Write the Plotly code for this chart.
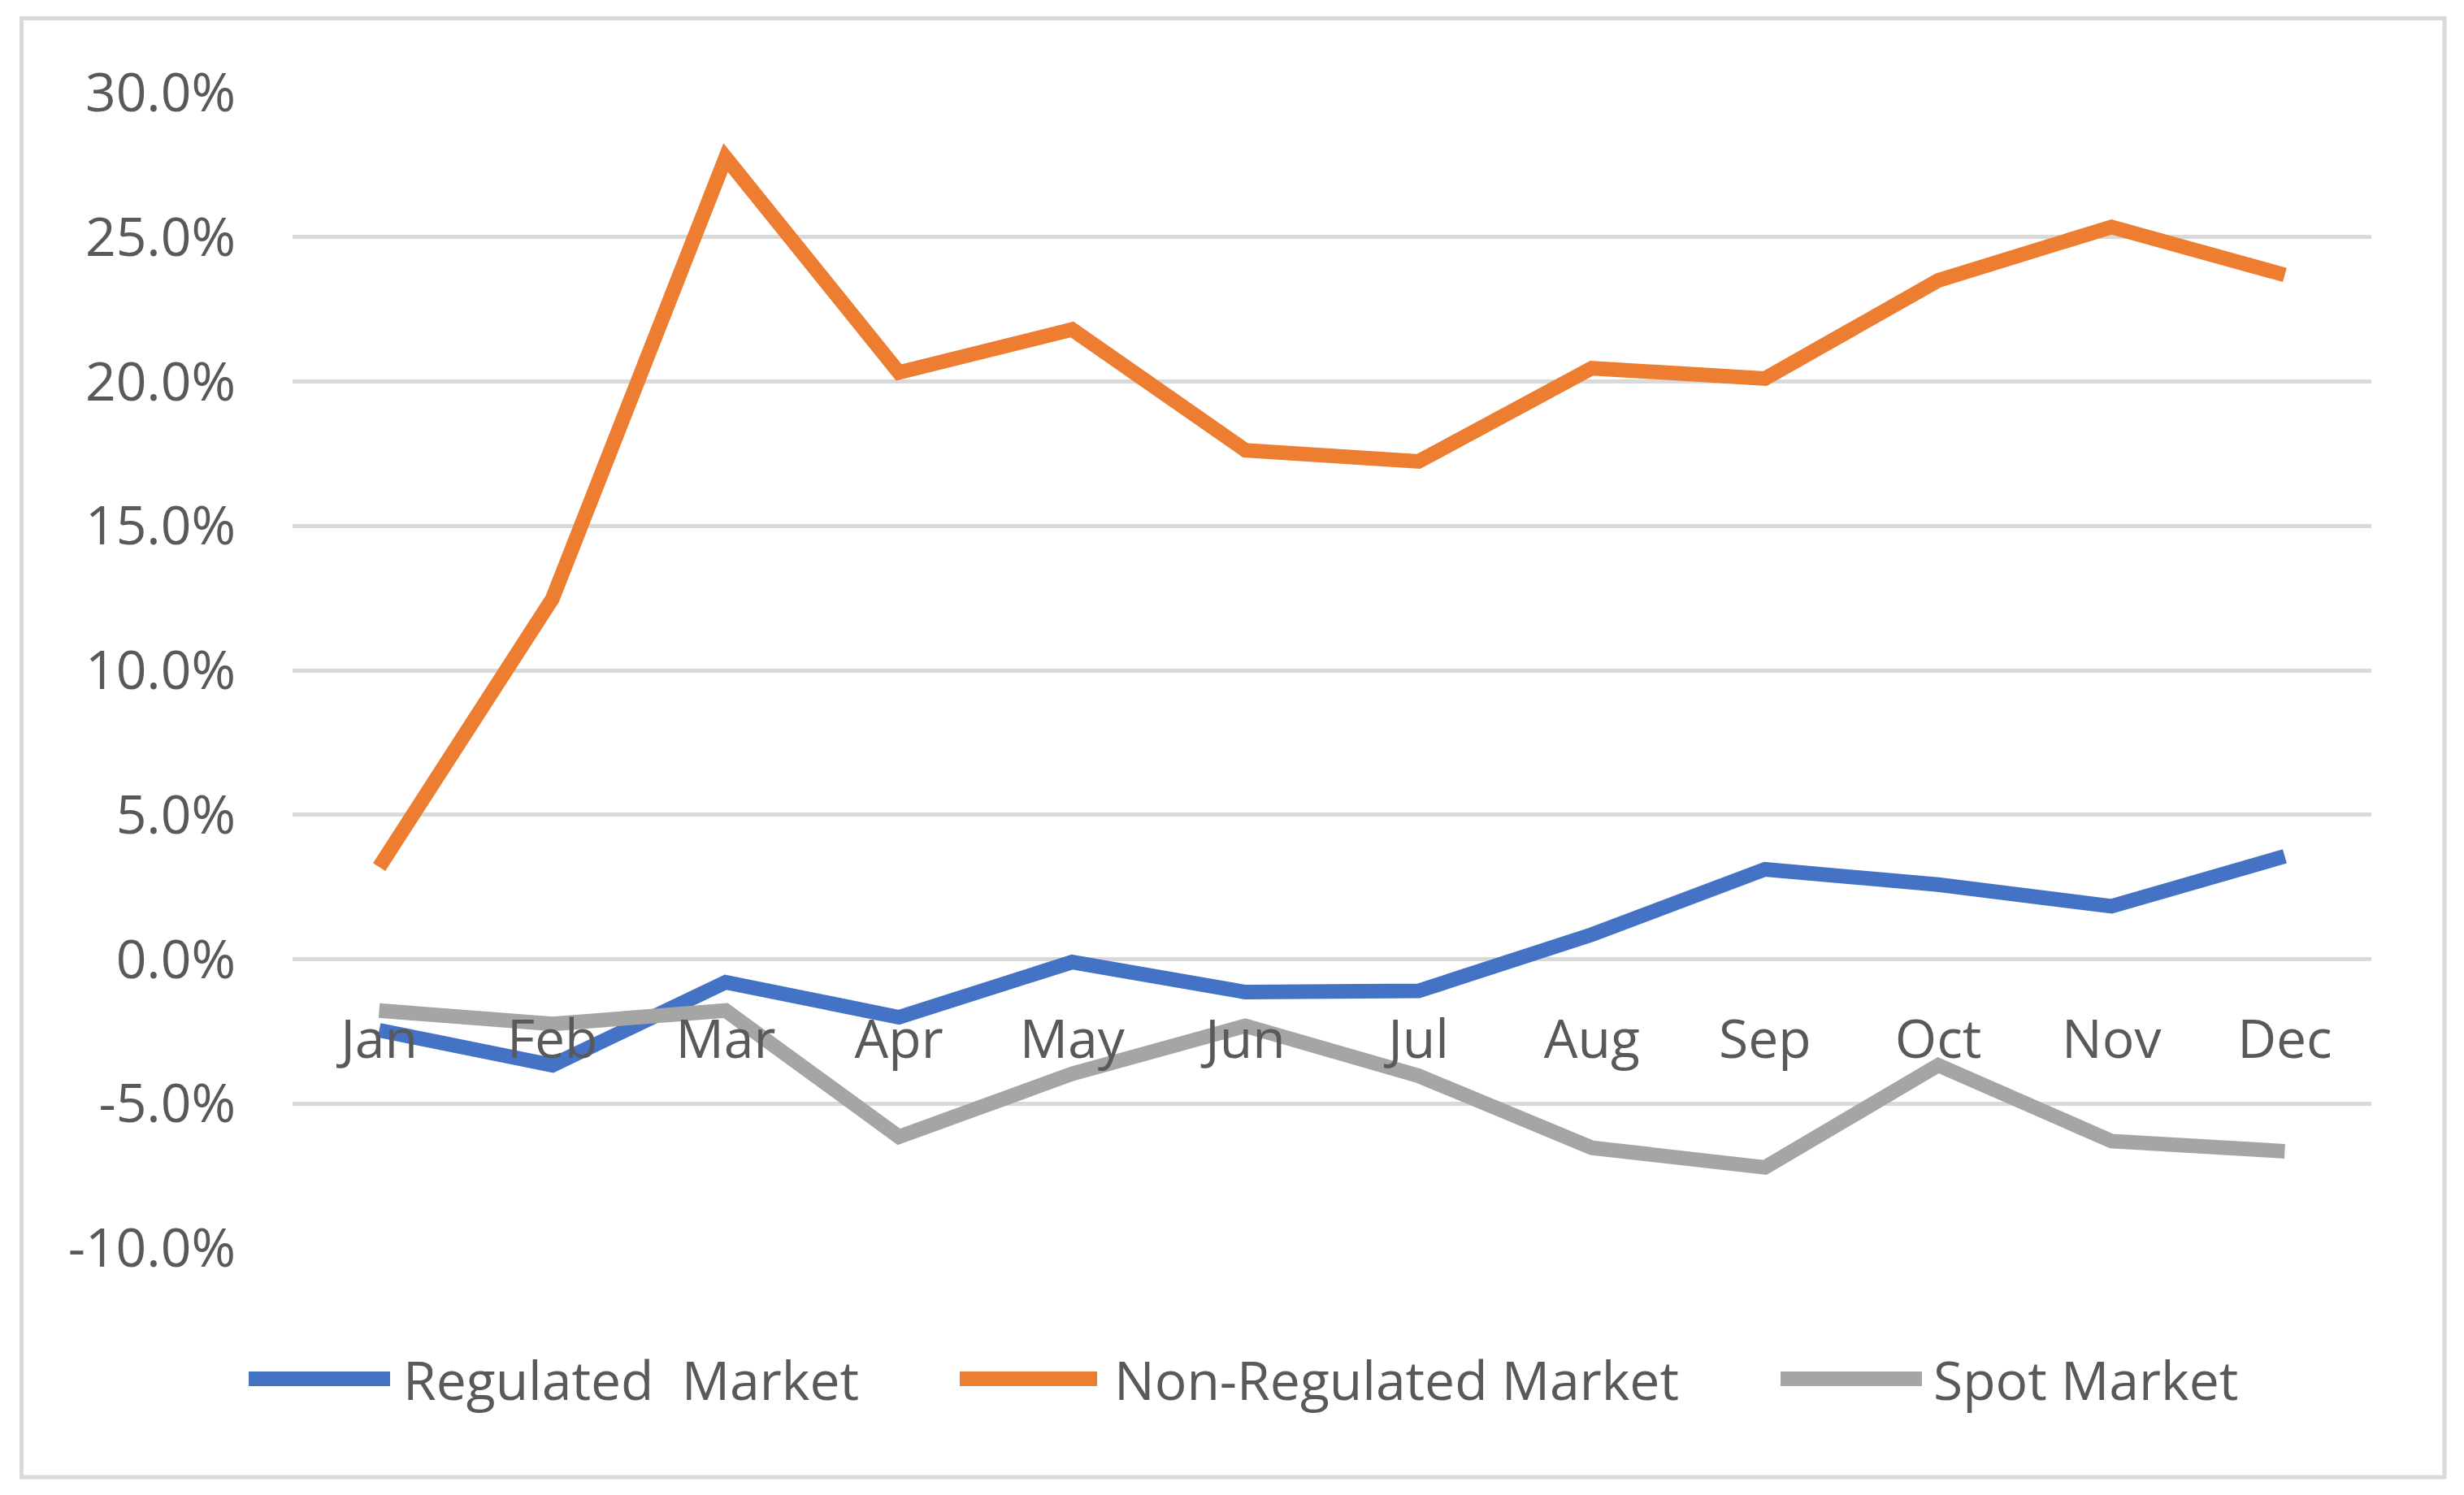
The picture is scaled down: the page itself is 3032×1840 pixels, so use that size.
import plotly.graph_objects as go

months = ["Jan", "Feb", "Mar", "Apr", "May", "Jun", "Jul", "Aug", "Sep", "Oct", "Nov", "Dec"]
regulated = [-2.46, -3.67, -0.80, -2.01, -0.10, -1.14, -1.10, 0.85, 3.11, 2.58, 1.83, 3.56]
non_regulated = [3.19, 12.48, 27.75, 20.31, 21.80, 17.62, 17.23, 20.46, 20.10, 23.50, 25.35, 23.69]
spot = [-1.78, -2.24, -1.78, -6.15, -3.97, -2.31, -4.04, -6.53, -7.21, -3.67, -6.30, -6.65]
series_names = ["Regulated  Market", "Non-Regulated Market", "Spot Market"]
series_colors = ["#4472C4", "#ED7D31", "#A5A5A5"]
y_tick_vals = [-10, -5, 0, 5, 10, 15, 20, 25, 30]
y_tick_text = ["-10.0%", "-5.0%", "0.0%", "5.0%", "10.0%", "15.0%", "20.0%", "25.0%", "30.0%"]

W, H = 3032, 1840
L, R, T, B = 360, 114, 114, 304
PW, PH = W - L - R, H - T - B

def px(x):
    return (x - L) / PW

def py(y):
    return (H - B - y) / PH

FONT = "Open Sans"
TXT = "#595959"
FS = 66

fig = go.Figure()
for name, vals, col in zip(series_names, [regulated, non_regulated, spot], series_colors):
    fig.add_trace(go.Scatter(x=months, y=vals, mode="lines", name=name,
                             line=dict(color=col, width=18), showlegend=False))

shapes = [dict(type="rect", xref="paper", yref="paper", x0=px(26.5), x1=px(3008), y0=py(22.5), y1=py(1818),
               line=dict(color="#D9D9D9", width=5), fillcolor="rgba(0,0,0,0)", layer="below")]
annotations = []
legend_pos = [(306, 480, 494), (1181, 1350, 1369), (2191, 2365, 2377)]
for (x0, x1, xt), name, col in zip(legend_pos, series_names, series_colors):
    shapes.append(dict(type="line", xref="paper", yref="paper", x0=px(x0), x1=px(x1), y0=py(1697), y1=py(1697),
                       line=dict(color=col, width=18)))
    annotations.append(dict(xref="paper", yref="paper", x=px(xt), y=py(1697), xanchor="left", yanchor="middle",
                            text=name.replace("  ", "&nbsp; "), showarrow=False,
                            font=dict(family=FONT, size=FS, color=TXT)))

fig.update_layout(
    width=W, height=H,
    margin=dict(l=L, r=R, t=T, b=B, autoexpand=False),
    paper_bgcolor="white", plot_bgcolor="white",
    shapes=shapes, annotations=annotations,
    xaxis=dict(type="category", categoryorder="array", categoryarray=months, range=[-0.5, 11.5],
               showgrid=False, zeroline=False, showline=False, ticks="",
               anchor="free", position=0.25, ticklabelstandoff=54,
               tickfont=dict(family=FONT, size=FS, color=TXT)),
    yaxis=dict(range=[-10, 30], tickvals=y_tick_vals, ticktext=y_tick_text,
               showgrid=True, gridcolor="#D9D9D9", gridwidth=5, zeroline=False, showline=False,
               ticks="", ticklabelstandoff=69,
               tickfont=dict(family=FONT, size=FS, color=TXT)),
)

fig.write_html("out.html", config={"displayModeBar": False})
with open("out.html", "r", encoding="utf-8") as f:
    html = f.read()
html = html.replace("<body>", '<body style="margin:0;padding:0;overflow:hidden">', 1)
with open("out.html", "w", encoding="utf-8") as f:
    f.write(html)
